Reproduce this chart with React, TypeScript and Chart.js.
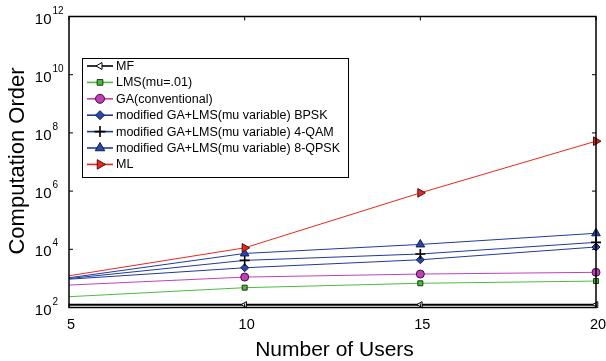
import React, { useEffect, useRef } from "react";
import { Chart, registerables } from "chart.js";

Chart.register(...registerables);

const users = [5, 10, 15, 20];
const mfValues = [125, 125, 125, 125];
const lmsValues = [235, 480, 680, 810];
const gaValues = [590, 1110, 1410, 1620];
const bpskValues = [940, 2320, 4370, 12000];
const qam4Values = [990, 4160, 6900, 17300];
const qpsk8Values = [1050, 7200, 14700, 35500];
const mlValues = [1230, 11200, 870000, 52000000];

const seriesLabels = [
  "MF",
  "LMS(mu=.01)",
  "GA(conventional)",
  "modified GA+LMS(mu variable) BPSK",
  "modified GA+LMS(mu variable) 4-QAM",
  "modified GA+LMS(mu variable) 8-QPSK",
  "ML",
];
const xTicks = [5, 10, 15, 20];
const yTickExponents = [2, 4, 6, 8, 10, 12];
const xTitle = "Number of Users";
const yTitle = "Computation Order";

const FONT = '"Liberation Sans", Arial, Helvetica, sans-serif';

type Style = {
  color: string;
  pointStyle: string;
  rotation: number;
  fill: string;
  stroke: string;
  radius: number;
  lineWidth: number;
  pointBorderWidth: number;
};

const styles: Style[] = [
  { color: "#000000", pointStyle: "triangle", rotation: 270, fill: "#ffffff", stroke: "#000000", radius: 3.5, lineWidth: 2, pointBorderWidth: 1 },
  { color: "#4cbb3c", pointStyle: "rect", rotation: 0, fill: "#4cbb3c", stroke: "#1a3a10", radius: 3.5, lineWidth: 1, pointBorderWidth: 1 },
  { color: "#c040b8", pointStyle: "circle", rotation: 0, fill: "#c040b8", stroke: "#3a103a", radius: 4, lineWidth: 1, pointBorderWidth: 1 },
  { color: "#1f3a9a", pointStyle: "rectRot", rotation: 0, fill: "#2a48a8", stroke: "#101c50", radius: 4, lineWidth: 1, pointBorderWidth: 1 },
  { color: "#1f3a9a", pointStyle: "cross", rotation: 0, fill: "#000000", stroke: "#000000", radius: 5, lineWidth: 1, pointBorderWidth: 1.6 },
  { color: "#1f3a9a", pointStyle: "triangle", rotation: 0, fill: "#2a48a8", stroke: "#101c50", radius: 5, lineWidth: 1, pointBorderWidth: 1 },
  { color: "#e8281c", pointStyle: "triangle", rotation: 90, fill: "#e8281c", stroke: "#501010", radius: 5, lineWidth: 1, pointBorderWidth: 1 },
];

const allValues = [mfValues, lmsValues, gaValues, bpskValues, qam4Values, qpsk8Values, mlValues];

function drawMarker(ctx: CanvasRenderingContext2D, st: Style, x: number, y: number) {
  const r = st.radius;
  const rad = (st.rotation * Math.PI) / 180;
  ctx.save();
  ctx.fillStyle = st.fill;
  ctx.strokeStyle = st.stroke;
  ctx.lineWidth = st.pointBorderWidth;
  ctx.beginPath();
  if (st.pointStyle === "circle") {
    ctx.arc(x, y, r, 0, Math.PI * 2);
    ctx.fill();
    ctx.stroke();
  } else if (st.pointStyle === "rect") {
    const s = r * Math.SQRT1_2;
    ctx.rect(x - s, y - s, 2 * s, 2 * s);
    ctx.fill();
    ctx.stroke();
  } else if (st.pointStyle === "rectRot") {
    ctx.moveTo(x, y - r);
    ctx.lineTo(x + r, y);
    ctx.lineTo(x, y + r);
    ctx.lineTo(x - r, y);
    ctx.closePath();
    ctx.fill();
    ctx.stroke();
  } else if (st.pointStyle === "cross") {
    ctx.moveTo(x, y - r);
    ctx.lineTo(x, y + r);
    ctx.moveTo(x - r, y);
    ctx.lineTo(x + r, y);
    ctx.stroke();
  } else {
    let a = rad;
    ctx.moveTo(x + Math.sin(a) * r, y - Math.cos(a) * r);
    a += (2 * Math.PI) / 3;
    ctx.lineTo(x + Math.sin(a) * r, y - Math.cos(a) * r);
    a += (2 * Math.PI) / 3;
    ctx.lineTo(x + Math.sin(a) * r, y - Math.cos(a) * r);
    ctx.closePath();
    ctx.fill();
    ctx.stroke();
  }
  ctx.restore();
}

const framePlugin = {
  id: "frame",
  afterDraw(chart: any) {
    const ctx: CanvasRenderingContext2D = chart.ctx;
    const { left, right, top, bottom } = chart.chartArea;
    const xs = chart.scales.x;
    const ys = chart.scales.y;
    ctx.save();
    // box
    ctx.strokeStyle = "#000";
    ctx.lineWidth = 1.5;
    ctx.strokeRect(left, top, right - left, bottom - top);
    // ticks
    ctx.lineWidth = 1;
    const tl = 4;
    ctx.beginPath();
    xTicks.forEach((v) => {
      const px = xs.getPixelForValue(v);
      ctx.moveTo(px, bottom);
      ctx.lineTo(px, bottom - tl);
      ctx.moveTo(px, top);
      ctx.lineTo(px, top + tl);
    });
    yTickExponents.forEach((e) => {
      const py = ys.getPixelForValue(Math.pow(10, e));
      ctx.moveTo(left, py);
      ctx.lineTo(left + tl, py);
      ctx.moveTo(right, py);
      ctx.lineTo(right - tl, py);
    });
    ctx.stroke();
    // x tick labels
    ctx.fillStyle = "#000";
    ctx.font = `14.5px ${FONT}`;
    ctx.textAlign = "center";
    ctx.textBaseline = "alphabetic";
    xTicks.forEach((v) => {
      const px = xs.getPixelForValue(v);
      ctx.fillText(String(v), px + 2, bottom + 21);
    });
    // y tick labels 10^e
    yTickExponents.forEach((e) => {
      const py = ys.getPixelForValue(Math.pow(10, e));
      ctx.font = `15px ${FONT}`;
      ctx.textAlign = "right";
      ctx.fillText("10", left - 17.5, py + 7);
      ctx.font = `10px ${FONT}`;
      ctx.textAlign = "left";
      ctx.fillText(String(e), left - 16.5, py - 3);
    });
    // axis titles
    ctx.font = `21px ${FONT}`;
    ctx.textAlign = "center";
    ctx.fillText(xTitle, (left + right) / 2 + 2, 356);
    ctx.save();
    ctx.font = `22px ${FONT}`;
    ctx.translate(24, (top + bottom) / 2 - 1);
    ctx.rotate(-Math.PI / 2);
    ctx.fillText(yTitle, 0, 0);
    ctx.restore();

    // legend
    const bx = 82, by = 58, bw = 266, bh = 119;
    ctx.fillStyle = "#fff";
    ctx.fillRect(bx, by, bw, bh);
    ctx.strokeStyle = "#000";
    ctx.lineWidth = 1;
    ctx.strokeRect(bx + 0.5, by + 0.5, bw, bh);
    ctx.font = `12.5px ${FONT}`;
    ctx.textAlign = "left";
    ctx.textBaseline = "middle";
    seriesLabels.forEach((lab, i) => {
      const st = styles[i];
      const y = by + 8 + i * 16.4;
      ctx.strokeStyle = st.color;
      ctx.lineWidth = 1.6;
      ctx.beginPath();
      ctx.moveTo(87, y);
      ctx.lineTo(113, y);
      ctx.stroke();
      drawMarker(ctx, { ...st, radius: st.radius + 0.5 }, 100, y);
      ctx.fillStyle = "#000";
      ctx.fillText(lab, 116, y + 0.5);
    });
    ctx.restore();
  },
};

export default function App() {
  const ref = useRef<HTMLCanvasElement | null>(null);
  useEffect(() => {
    if (!ref.current) return;
    const datasets = allValues.map((vals, i) => {
      const st = styles[i];
      return {
        label: seriesLabels[i],
        data: users.map((u, j) => ({ x: u, y: vals[j] })),
        borderColor: st.color,
        borderWidth: st.lineWidth,
        backgroundColor: st.fill,
        pointBackgroundColor: st.fill,
        pointBorderColor: st.stroke,
        pointBorderWidth: st.pointBorderWidth,
        pointStyle: st.pointStyle,
        rotation: st.rotation,
        pointRadius: users.map((_, j) => (j === 0 ? 0 : st.radius)),
        tension: 0,
        clip: false,
        order: 7 - i,
      };
    });
    const chart = new Chart(ref.current, {
      type: "line",
      data: { datasets: datasets as any },
      options: {
        responsive: false,
        animation: false,
        events: [],
        layout: { padding: { top: 16.5, right: 10, left: 0, bottom: 0 } },
        plugins: { legend: { display: false }, tooltip: { enabled: false } },
        scales: {
          x: {
            type: "linear",
            min: 5,
            max: 20,
            ticks: { display: false },
            grid: { display: false },
            border: { display: false },
            afterFit: (s: any) => {
              s.height = 53.5;
            },
          },
          y: {
            type: "logarithmic",
            min: 100,
            max: 1e12,
            ticks: { display: false },
            grid: { display: false },
            border: { display: false },
            afterFit: (s: any) => {
              s.width = 69;
            },
          },
        },
      } as any,
      plugins: [framePlugin],
    });
    return () => chart.destroy();
  }, []);
  return (
    <div style={{ position: "absolute", left: 0, top: 0, width: 606, height: 361, background: "#fff" }}>
      <canvas ref={ref} width={606} height={361} style={{ display: "block" }} />
    </div>
  );
}
